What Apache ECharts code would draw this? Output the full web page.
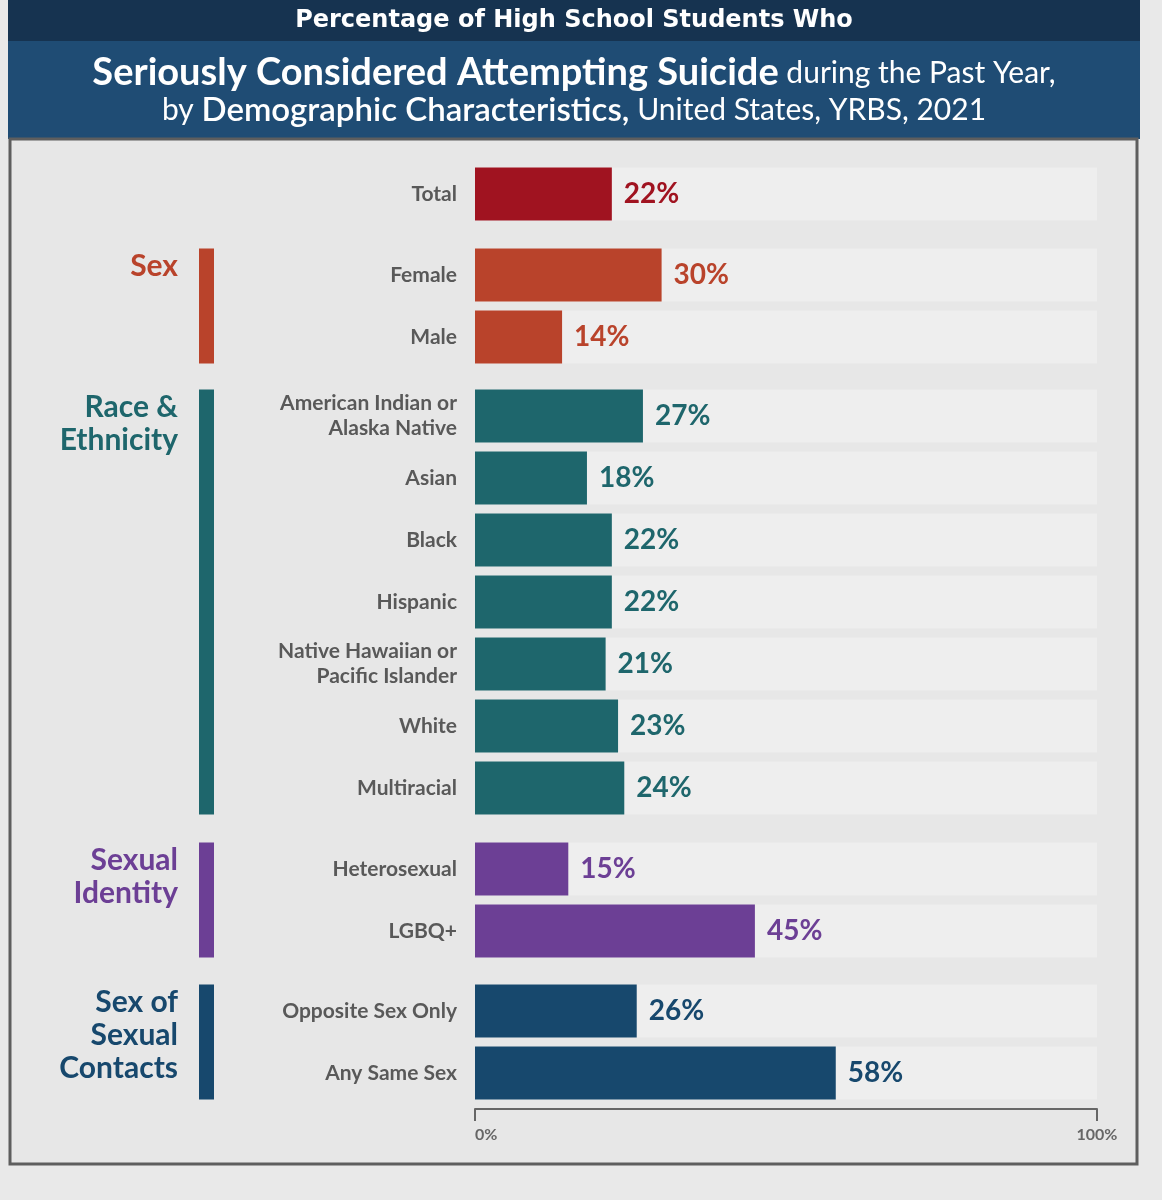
<!DOCTYPE html>
<html>
<head>
<meta charset="utf-8">
<script src="https://cdn.jsdelivr.net/npm/echarts@6/dist/echarts.min.js"></script>
<style>
  html, body { margin: 0; padding: 0; background: #e9e9e9; }
  #chart { width: 1162px; height: 1200px; }
</style>
</head>
<body>
<div id="chart"></div>
<script>
// data
let groupNames = ['', 'Sex', 'Race &\nEthnicity', 'Sexual\nIdentity', 'Sex of\nSexual\nContacts'];
let groupColors = ['#a01320', '#b9432b', '#1e666c', '#6c3f95', '#17486d'];
let totalCats = ['Total'];
let totalVals = [22];
let sexCats = ['Female', 'Male'];
let sexVals = [30, 14];
let raceCats = ['American Indian or\nAlaska Native', 'Asian', 'Black', 'Hispanic',
  'Native Hawaiian or\nPacific Islander', 'White', 'Multiracial'];
let raceVals = [27, 18, 22, 22, 21, 23, 24];
let identityCats = ['Heterosexual', 'LGBQ+'];
let identityVals = [15, 45];
let contactCats = ['Opposite Sex Only', 'Any Same Sex'];
let contactVals = [26, 58];
let axisTicks = [0, 100];

let groups = [
  [totalCats, totalVals],
  [sexCats, sexVals],
  [raceCats, raceVals],
  [identityCats, identityVals],
  [contactCats, contactVals]
];

// layout
let rowH = 62;
let gridTops = [163, 244, 385, 838, 980];
let plotLeft = 475, plotRight = 65;
let font = 'Lato, "Open Sans", sans-serif';

let grids = [], xAxes = [], yAxes = [], series = [], graphics = [];

// header + panel
graphics.push(
  { type: 'rect', shape: { x: 8, y: 0, width: 1132, height: 41 }, style: { fill: '#163350' } },
  { type: 'rect', shape: { x: 8, y: 41, width: 1132, height: 98 }, style: { fill: '#1f4c74' } },
  { type: 'rect', shape: { x: 10, y: 139, width: 1127, height: 1025 },
    style: { fill: '#e7e7e7', stroke: '#5e5e5e', lineWidth: 3 } },
  { type: 'text', x: 574, y: 21,
    style: { text: 'Percentage of High School Students Who', fill: '#fff',
      font: 'bold 24px "DejaVu Sans", sans-serif',
      align: 'center', verticalAlign: 'middle' } },
  { type: 'text', x: 574, y: 73,
    style: { text: '{b|Seriously Considered Attempting Suicide}{r| during the Past Year,}',
      align: 'center', verticalAlign: 'middle',
      rich: {
        b: { fill: '#fff', font: 'bold 38px ' + font },
        r: { fill: '#fff', font: '30px ' + font }
      } } },
  { type: 'text', x: 574, y: 110,
    style: { text: '{r|by }{m|Demographic Characteristics,}{r| United States, YRBS, 2021}',
      align: 'center', verticalAlign: 'middle',
      rich: {
        m: { fill: '#fff', font: '600 33px ' + font },
        r: { fill: '#fff', font: '30px ' + font }
      } } }
);

groups.forEach(function (g, i) {
  let cats = g[0], vals = g[1];
  let h = cats.length * rowH;
  let last = i === groups.length - 1;
  grids.push({ left: plotLeft, right: plotRight, top: gridTops[i], height: h });
  xAxes.push({
    gridIndex: i, type: 'value', min: axisTicks[0], max: axisTicks[1], interval: 100,
    splitLine: { show: false },
    axisLine: { show: last, lineStyle: { color: '#666', width: 2 } },
    axisTick: { show: last, length: 12, lineStyle: { color: '#666', width: 2 } },
    axisLabel: { show: last, formatter: '{value}%', color: '#666', fontFamily: font,
      fontWeight: 'bold', fontSize: 16, margin: 18, alignMinLabel: 'left' },
    offset: last ? 5 : 0
  });
  yAxes.push({
    gridIndex: i, type: 'category', data: cats, inverse: true,
    axisLine: { show: false }, axisTick: { show: false },
    axisLabel: { color: '#595959', fontFamily: font, fontWeight: 'bold', fontSize: 21,
      lineHeight: 25, margin: 18 }
  });
  series.push({
    type: 'bar', xAxisIndex: i, yAxisIndex: i, data: vals, barWidth: 53,
    itemStyle: { color: groupColors[i] },
    showBackground: true,
    backgroundStyle: { color: '#eeeeee' },
    label: { show: true, position: 'right', distance: 12, formatter: '{c}%',
      color: groupColors[i], fontFamily: font, fontWeight: 'bold', fontSize: 28 },
    silent: true
  });
  if (groupNames[i]) {
    graphics.push({
      type: 'rect',
      shape: { x: 199, y: gridTops[i] + 4.5, width: 15, height: h - 9 },
      style: { fill: groupColors[i] }
    });
    graphics.push({
      type: 'text', x: 178, y: gridTops[i] + 6,
      style: { text: groupNames[i], fill: groupColors[i], font: 'bold 30px ' + font,
        lineHeight: 33, align: 'right', verticalAlign: 'top' }
    });
  }
});

let myChart = echarts.init(document.getElementById('chart'));
let option = {
  backgroundColor: '#e9e9e9',
  animation: false,
  graphic: { elements: graphics },
  grid: grids,
  xAxis: xAxes,
  yAxis: yAxes,
  series: series
};
myChart.setOption(option);
</script>
</body>
</html>
